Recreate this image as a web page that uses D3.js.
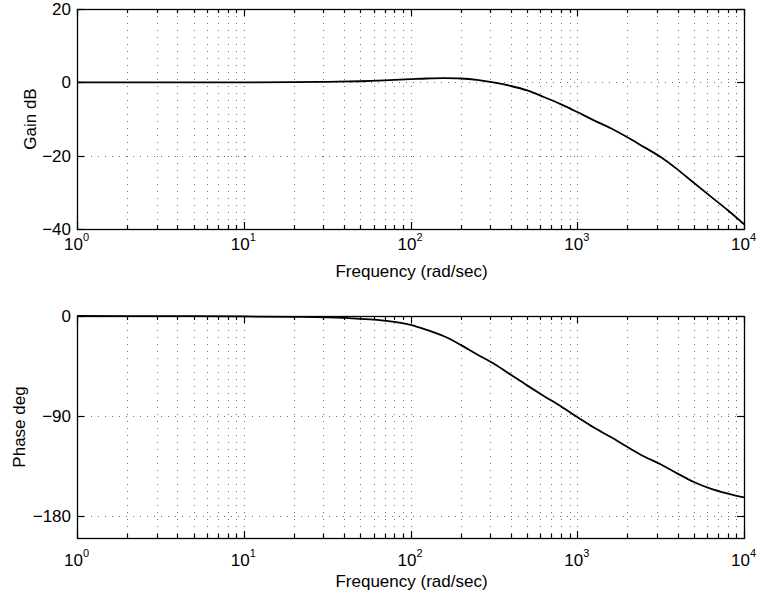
<!DOCTYPE html>
<html>
<head>
<meta charset="utf-8">
<script src="https://cdn.jsdelivr.net/npm/d3@7"></script>
<style>
  html, body { margin: 0; padding: 0; background: #fff; }
  svg { display: block; }
  text { font-family: "Liberation Sans", Arial, Helvetica, sans-serif; fill: #000; }
</style>
</head>
<body>
<svg id="chart" width="760" height="598"></svg>
<script>
// Sample frequencies (rad/sec), roughly tenth-decade spacing
const freq = [1, 3, 10, 20, 32, 50, 63, 80, 100, 125, 160, 200, 250, 320, 400, 500, 630, 800,
              1000, 1250, 1600, 2000, 2500, 3200, 4000, 5000, 6300, 8000, 10000];

// Gain (dB) at each frequency
const gainDb = [0, 0, 0, 0.05, 0.15, 0.3, 0.45, 0.65, 0.85, 1.05, 1.15, 1.05, 0.65, -0.1, -1.0, -2.2, -4.0, -6.0,
                -8.1, -10.3, -12.6, -15.0, -17.6, -20.5, -23.8, -27.4, -31.1, -34.9, -38.7];

// Phase (degrees) at each frequency
const phaseDeg = [0, -0.1, -0.4, -0.8, -1.3, -2.5, -3.5, -5.3, -8, -12.5, -18.5, -26, -34.5, -43.5, -53, -62.5, -72, -81.5,
                  -91, -100.3, -109.3, -118, -126.3, -134, -142, -149.5, -155.5, -160, -163.5];

const freqDomain  = [1, 10000];
const decades     = [1, 10, 100, 1000, 10000];
const decadeExps  = ["0", "1", "2", "3", "4"];
const gainDomain  = [-40, 20];
const gainTicks   = [-40, -20, 0, 20];
const phaseDomain = [-200, 0];
const phaseTicks  = [-180, -90, 0];
const xTitle      = "Frequency (rad/sec)";

const svg = d3.select("#chart");
const left = 77, right = 744;
const FS = 17;

// minor positions 2..9 within each decade
const minors = [];
decades.slice(0, -1).forEach(d => { for (let k = 2; k <= 9; k++) minors.push(d * k); });

function fmt(v) { return v < 0 ? "\u2212" + Math.abs(v) : String(v); }

function panel(cfg) {
  const x = d3.scaleLog().domain(freqDomain).range([left, right]);
  const y = d3.scaleLinear().domain(cfg.domain).range([cfg.bottom, cfg.top]);
  const g = svg.append("g");

  // dotted grid
  const grid = g.append("g").attr("stroke", "#000").attr("stroke-width", 1)
    .attr("stroke-dasharray", "1,6").attr("opacity", 0.55);
  minors.concat(decades.slice(1, -1)).forEach(f => {
    grid.append("line").attr("x1", Math.round(x(f)) + 0.5).attr("x2", Math.round(x(f)) + 0.5)
      .attr("y1", cfg.top).attr("y2", cfg.bottom);
  });
  cfg.ticks.forEach(v => {
    if (v === cfg.domain[0] || v === cfg.domain[1]) return;
    grid.append("line").attr("x1", left).attr("x2", right)
      .attr("y1", Math.round(y(v)) + 0.5).attr("y2", Math.round(y(v)) + 0.5);
  });

  // frame
  g.append("rect").attr("x", left + 0.5).attr("y", cfg.top + 0.5)
    .attr("width", right - left).attr("height", cfg.bottom - cfg.top)
    .attr("fill", "none").attr("stroke", "#000").attr("stroke-width", 1.3);

  // inward ticks on all four sides
  const tk = g.append("g").attr("stroke", "#000").attr("stroke-width", 1.2);
  decades.forEach(f => {
    const px = Math.round(x(f)) + 0.5;
    tk.append("line").attr("x1", px).attr("x2", px).attr("y1", cfg.bottom).attr("y2", cfg.bottom - 7);
    tk.append("line").attr("x1", px).attr("x2", px).attr("y1", cfg.top).attr("y2", cfg.top + 7);
  });
  minors.forEach(f => {
    const px = Math.round(x(f)) + 0.5;
    tk.append("line").attr("x1", px).attr("x2", px).attr("y1", cfg.bottom).attr("y2", cfg.bottom - 4);
    tk.append("line").attr("x1", px).attr("x2", px).attr("y1", cfg.top).attr("y2", cfg.top + 4);
  });
  cfg.ticks.forEach(v => {
    const py = Math.round(y(v)) + 0.5;
    tk.append("line").attr("x1", left).attr("x2", left + 7).attr("y1", py).attr("y2", py);
    tk.append("line").attr("x1", right).attr("x2", right - 7).attr("y1", py).attr("y2", py);
  });

  // y tick labels
  cfg.ticks.forEach(v => {
    g.append("text").attr("x", 71).attr("y", y(v) + 6)
      .attr("text-anchor", "end").attr("font-size", FS).text(fmt(v));
  });

  // x tick labels: 10 with superscript exponent
  decades.forEach((f, i) => {
    const t = g.append("text").attr("x", x(f) - 13).attr("y", cfg.xLabelY)
      .attr("text-anchor", "start").attr("font-size", FS);
    t.append("tspan").text("10");
    t.append("tspan").attr("font-size", 11).attr("dy", -9).text(decadeExps[i]);
  });

  // axis titles
  g.append("text").attr("x", (left + right) / 2 + 1).attr("y", cfg.xTitleY)
    .attr("text-anchor", "middle").attr("font-size", FS).text(xTitle);
  g.append("text")
    .attr("transform", `translate(${cfg.yTitleX},${(cfg.top + cfg.bottom) / 2}) rotate(-90)`)
    .attr("text-anchor", "middle").attr("font-size", FS).text(cfg.yTitle);

  // response curve
  const line = d3.line().x((d, i) => x(freq[i])).y(d => y(d)).curve(d3.curveCatmullRom.alpha(0.5));
  g.append("path").datum(cfg.values).attr("d", line)
    .attr("fill", "none").attr("stroke", "#000").attr("stroke-width", 1.8);
}

panel({ top: 9, bottom: 229, domain: gainDomain, ticks: gainTicks, values: gainDb,
        yTitle: "Gain dB", yTitleX: 36, xLabelY: 250, xTitleY: 277 });
panel({ top: 316, bottom: 538, domain: phaseDomain, ticks: phaseTicks, values: phaseDeg,
        yTitle: "Phase deg", yTitleX: 25, xLabelY: 566, xTitleY: 587 });
</script>
</body>
</html>
